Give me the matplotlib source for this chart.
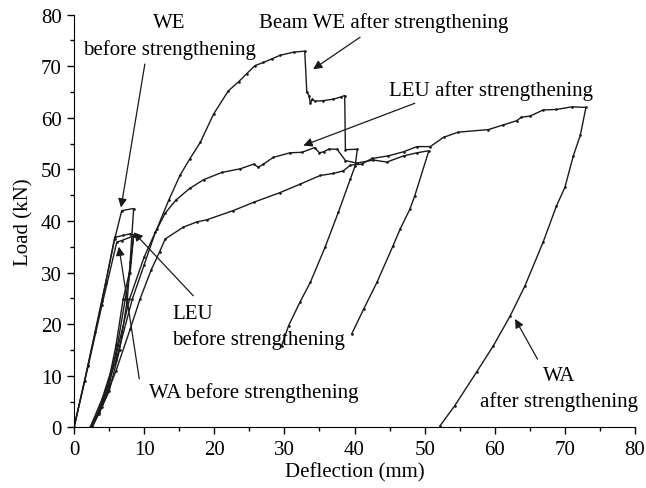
import numpy as np
import matplotlib
matplotlib.use("Agg")
import matplotlib.pyplot as plt
from matplotlib.ticker import MultipleLocator

plt.rcParams['font.family'] = ['Liberation Serif', 'DejaVu Serif']

# =============================
# Load-deflection curves (mm, kN)
# =============================
we_before_x = [0, 1.5, 3.0, 4.5, 5.8, 6.8, 8.5, 8.0, 7.6, 6.5, 5.0, 3.5, 2.3]
we_before_y = [0, 9.0, 18.5, 28.0, 36.5, 42.0, 42.4, 32.0, 24.8, 15.0, 7.0, 2.5, 0]

leu_before_x = [0, 2.0, 4.0, 5.8, 7.0, 8.0, 8.5, 7.9, 7.0, 6.0, 4.8, 3.5, 2.4]
leu_before_y = [0, 12.0, 24.5, 36.8, 37.2, 37.5, 37.3, 30.0, 24.8, 16.0, 8.0, 3.0, 0]

wa_before_x = [0, 2.0, 4.0, 6.1, 6.8, 8.5, 8.0, 7.3, 6.2, 5.0, 3.6, 2.5]
wa_before_y = [0, 11.8, 23.8, 35.9, 36.2, 37.1, 30.0, 24.8, 16.0, 8.0, 3.0, 0]

we_after_x = [2.3, 4.0, 6.0, 7.9, 10.0, 11.8, 13.5, 15.1, 16.5, 18.0, 19.9, 22.0,
              23.5, 24.6, 25.8, 27.0, 28.2, 29.4, 31.3, 32.9, 33.2, 33.5, 33.7,
              34.0, 34.3, 35.5, 37.0, 38.0, 38.6, 38.7, 40.4, 40.1, 39.4, 37.7,
              35.8, 33.7, 32.2, 30.6, 29.6]
we_after_y = [0, 5.5, 14.0, 24.8, 33.0, 38.4, 44.0, 48.8, 52.0, 55.2, 60.7, 65.2,
              67.0, 68.5, 70.1, 70.7, 71.4, 72.1, 72.7, 72.9, 64.9, 64.3, 62.8,
              63.6, 63.2, 63.3, 63.6, 64.0, 64.3, 53.8, 53.9, 50.7, 48.1, 41.7,
              34.9, 28.1, 24.2, 19.7, 15.8]

leu_after_x = [2.5, 4.0, 6.0, 8.3, 10.0, 11.6, 13.0, 14.5, 16.5, 18.5, 21.1, 23.7,
               25.6, 26.3, 27.0, 28.4, 30.8, 32.5, 34.3, 35.0, 35.6, 36.3, 37.5,
               38.7, 40.3, 42.7, 44.6, 47.0, 48.9, 50.6, 48.6, 47.9, 46.5, 45.5,
               43.2, 41.3, 39.6]
leu_after_y = [0, 5.0, 13.0, 24.8, 31.5, 37.8, 41.5, 44.0, 46.3, 48.0, 49.4, 50.1,
               51.0, 50.4, 51.0, 52.3, 53.2, 53.3, 54.2, 53.2, 53.4, 53.9, 53.9,
               51.7, 51.2, 51.8, 51.4, 52.6, 53.2, 53.6, 44.9, 42.3, 38.4, 35.2,
               28.1, 22.9, 18.1]

wa_after_x = [2.6, 4.0, 6.0, 8.0, 9.4, 11.0, 12.2, 13.0, 15.6, 17.5, 18.9, 22.7,
              25.6, 29.4, 32.2, 35.1, 37.0, 38.4, 39.4, 41.0, 42.5, 44.8, 47.0,
              48.9, 50.8, 52.7, 54.8, 59.1, 61.2, 63.1, 63.8, 65.0, 66.9, 68.8,
              71.0, 73.0, 72.2, 71.2, 70.0, 68.8, 66.9, 64.3, 62.2, 59.8, 57.4,
              54.3, 52.2]
wa_after_y = [0, 4.0, 11.0, 19.0, 24.8, 30.5, 34.0, 36.5, 38.8, 39.8, 40.2, 42.0,
              43.6, 45.5, 47.1, 48.8, 49.2, 49.7, 50.8, 51.0, 52.1, 52.6, 53.4,
              54.4, 54.4, 56.2, 57.2, 57.7, 58.6, 59.4, 60.1, 60.3, 61.5, 61.6,
              62.1, 62.0, 56.6, 52.6, 46.5, 42.9, 35.9, 27.4, 21.6, 15.8, 10.7,
              4.2, 0.3]

curves = [
    (we_before_x, we_before_y),
    (leu_before_x, leu_before_y),
    (wa_before_x, wa_before_y),
    (we_after_x, we_after_y),
    (leu_after_x, leu_after_y),
    (wa_after_x, wa_after_y),
]

fig = plt.figure(figsize=(6.46, 4.89), dpi=100)
ax = fig.add_axes([0.1146, 0.1241, 0.8684, 0.8442])

for cx, cy in curves:
    ax.plot(cx, cy, color="#1a1a1a", linewidth=1.0, marker="o", markersize=0.9)

ax.set_xlim(0, 80)
ax.set_ylim(0, 80)
ax.xaxis.set_major_locator(MultipleLocator(10))
ax.xaxis.set_minor_locator(MultipleLocator(5))
ax.yaxis.set_major_locator(MultipleLocator(10))
ax.yaxis.set_minor_locator(MultipleLocator(5))

ax.spines["top"].set_visible(False)
ax.spines["right"].set_visible(False)
ax.tick_params(which="major", direction="out", length=5, width=1, labelsize=15, pad=4)
ax.tick_params(which="minor", direction="out", length=3, width=1)

ax.set_xlabel("Deflection (mm)", fontsize=15, labelpad=2)
ax.set_ylabel("Load (kN)", fontsize=15, labelpad=5)

# =============================
# Annotations
# =============================
arrow = dict(arrowstyle="-|>", color="#1a1a1a", lw=0.9, mutation_scale=13,
             shrinkA=0, shrinkB=0)
fs = 15

ax.annotate("", xy=(6.7, 42.6), xytext=(10.1, 70.4), arrowprops=arrow)
ax.text(13.55, 78.5, "WE", ha="center", va="center", fontsize=fs)
ax.text(13.55, 73.3, "before strengthening", ha="center", va="center", fontsize=fs)

ax.annotate("", xy=(34.1, 69.4), xytext=(40.8, 75.6), arrowprops=arrow)
ax.text(44.2, 78.5, "Beam WE after strengthening", ha="center", va="center", fontsize=fs)

ax.annotate("", xy=(32.7, 54.6), xytext=(48.6, 62.8), arrowprops=arrow)
ax.text(59.5, 65.4, "LEU after strengthening", ha="center", va="center", fontsize=fs)

ax.annotate("", xy=(8.5, 37.8), xytext=(17.0, 25.5), arrowprops=arrow)
ax.text(14.0, 22.0, "LEU", ha="left", va="center", fontsize=fs)
ax.text(14.0, 17.1, "before strengthening", ha="left", va="center", fontsize=fs)

ax.annotate("", xy=(6.4, 35.0), xytext=(9.3, 9.4), arrowprops=arrow)
ax.text(25.6, 6.9, "WA before strengthening", ha="center", va="center", fontsize=fs)

ax.annotate("", xy=(62.9, 21.0), xytext=(66.1, 13.2), arrowprops=arrow)
ax.text(69.2, 10.1, "WA", ha="center", va="center", fontsize=fs)
ax.text(69.1, 5.1, "after strengthening", ha="center", va="center", fontsize=fs)

plt.savefig("out.png", dpi=100)
